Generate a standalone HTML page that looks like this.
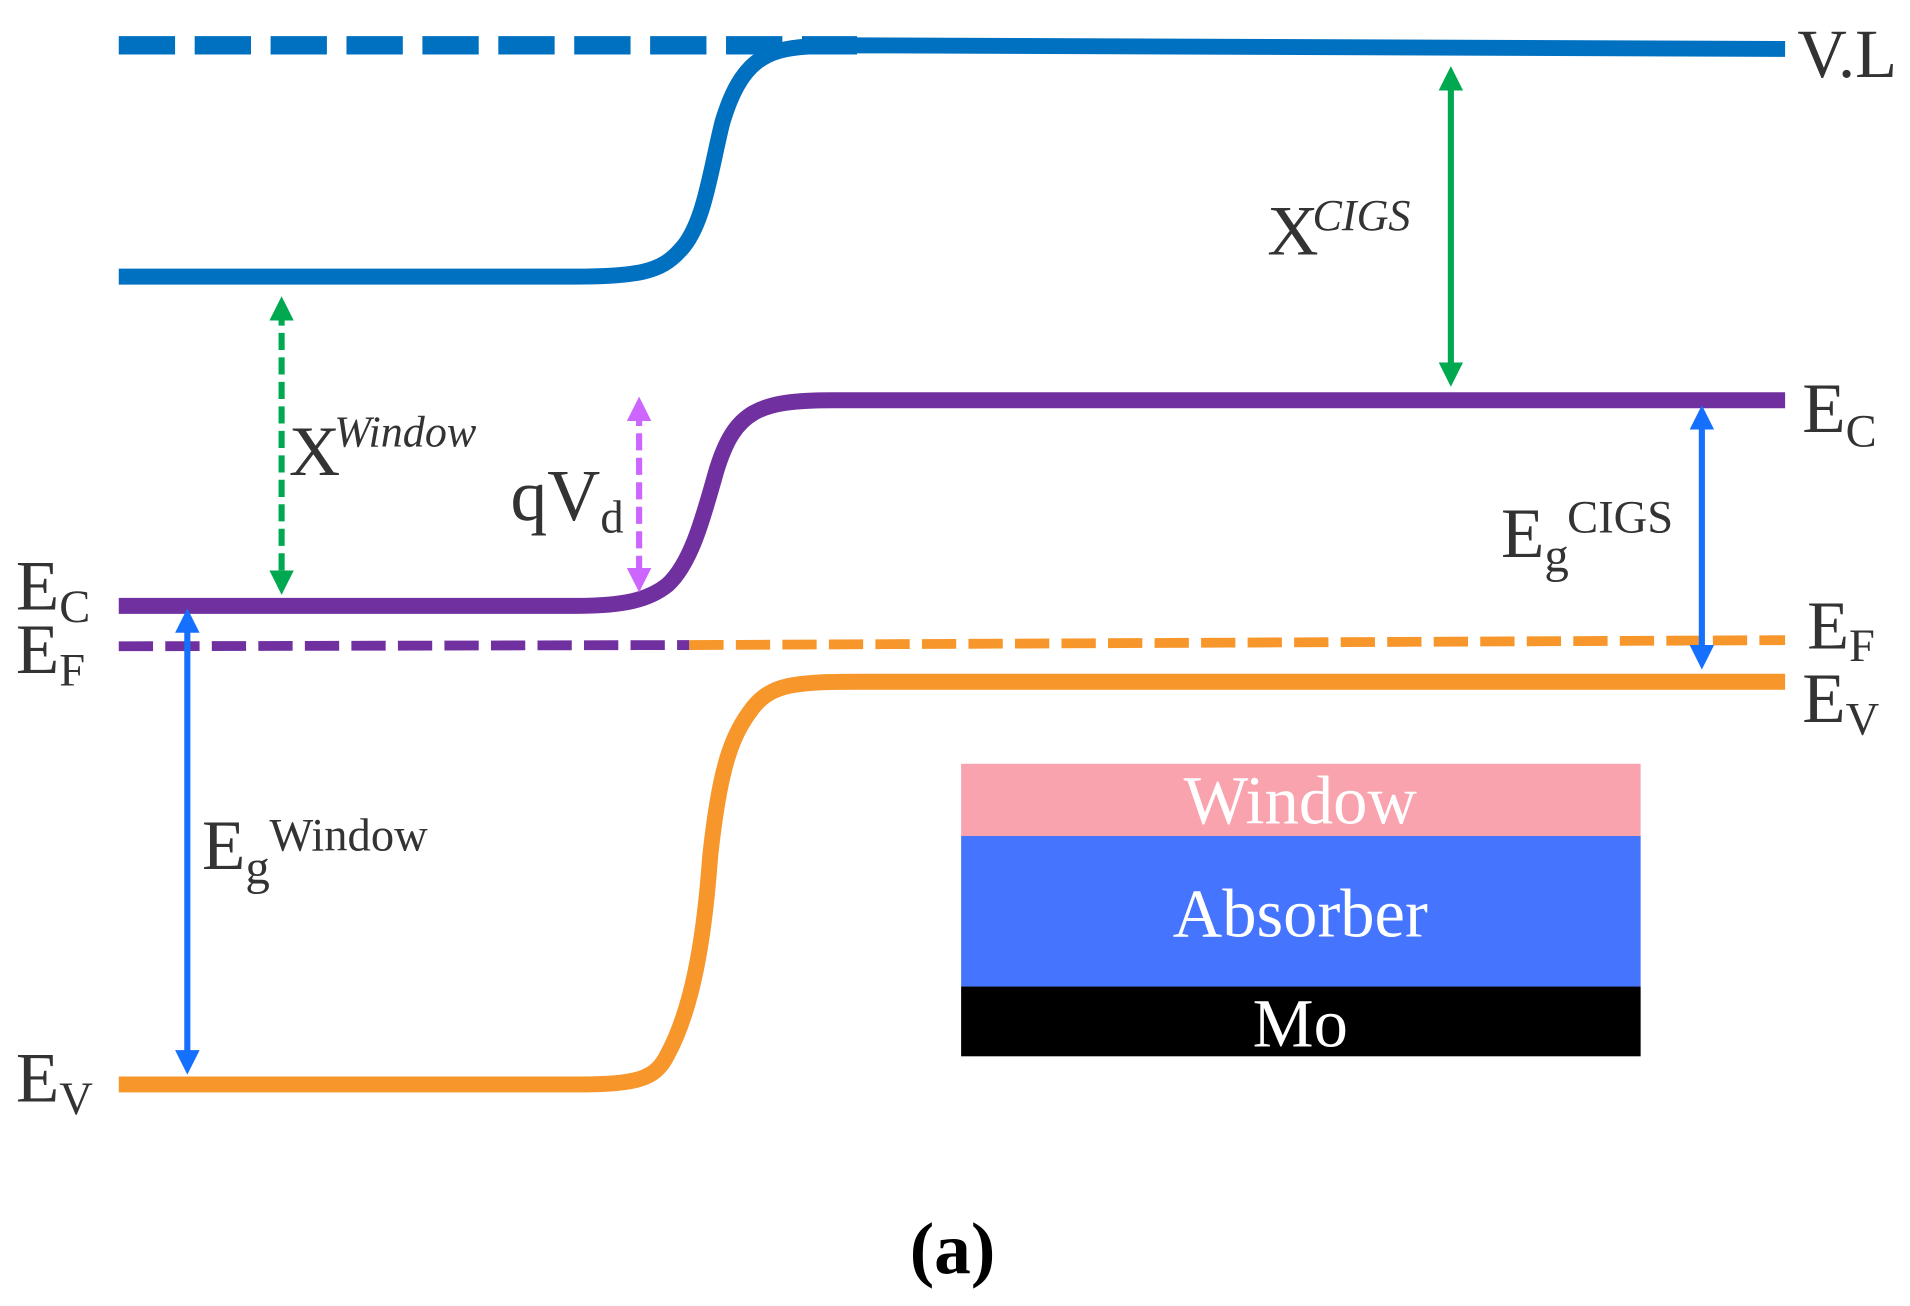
<!DOCTYPE html>
<html><head><meta charset="utf-8"><style>
html,body{margin:0;padding:0;background:#fff;width:1910px;height:1306px;overflow:hidden}
svg{display:block}
text{font-family:"Liberation Serif",serif;fill:#333}
</style></head><body>
<svg width="1910" height="1306" viewBox="0 0 1560 1067" preserveAspectRatio="none">
<defs>
<marker id="ag" viewBox="0 0 10 10" refX="5" refY="5" markerWidth="4" markerHeight="4" orient="auto-start-reverse"><path d="M0,0 L10,5 L0,10 z" fill="#00A84F"/></marker>
<marker id="ab" viewBox="0 0 10 10" refX="5" refY="5" markerWidth="4" markerHeight="4" orient="auto-start-reverse"><path d="M0,0 L10,5 L0,10 z" fill="#1570FF"/></marker>
<marker id="ap" viewBox="0 0 10 10" refX="5" refY="5" markerWidth="4" markerHeight="4" orient="auto-start-reverse"><path d="M0,0 L10,5 L0,10 z" fill="#CC66FF"/></marker>
</defs>
<line x1="97" y1="37" x2="700" y2="37" stroke="#0070C0" stroke-width="15" stroke-dasharray="46,16"/>
<path d="M97 226 H470 C520 226 540 222 555 205 C575 185 580 140 590 100 C605 50 625 40 660 38 L700 37 L1458 40" fill="none" stroke="#0070C0" stroke-width="13"/>
<path d="M97 495 H470 C510 495 530 490 545 478 C565 460 575 420 585 385 C600 335 620 327 680 327 H1458" fill="none" stroke="#7030A0" stroke-width="13"/>
<line x1="97" y1="528" x2="563" y2="527" stroke="#7030A0" stroke-width="8" stroke-dasharray="28,10"/>
<line x1="563" y1="527" x2="1458" y2="523" stroke="#F7962A" stroke-width="8" stroke-dasharray="28,10"/>
<path d="M97 886 H470 C520 886 535 882 545 862 C565 825 575 770 580 700 C588 625 598 600 615 578 C630 559 650 557 700 557 H1458" fill="none" stroke="#F7962A" stroke-width="13"/>
<line x1="230" y1="252" x2="230" y2="476" stroke="#00A84F" stroke-width="5" stroke-dasharray="14,6" marker-start="url(#ag)" marker-end="url(#ag)"/>
<line x1="1185" y1="64" x2="1185" y2="306" stroke="#00A84F" stroke-width="5" marker-start="url(#ag)" marker-end="url(#ag)"/>
<line x1="522" y1="334" x2="522" y2="474" stroke="#CC66FF" stroke-width="5" stroke-dasharray="14,6" marker-start="url(#ap)" marker-end="url(#ap)"/>
<line x1="153" y1="507" x2="153" y2="868" stroke="#1570FF" stroke-width="5" marker-start="url(#ab)" marker-end="url(#ab)"/>
<line x1="1390" y1="341" x2="1390" y2="537" stroke="#1570FF" stroke-width="5" marker-start="url(#ab)" marker-end="url(#ab)"/>
<text x="1468" y="63" font-size="56">V.L</text>
<text x="1472" y="353" font-size="58">E<tspan font-size="38" dy="12">C</tspan></text>
<text x="1476" y="530" font-size="56">E<tspan font-size="38" dy="10">F</tspan></text>
<text x="1472" y="590" font-size="58">E<tspan font-size="38" dy="10">V</tspan></text>
<text x="13" y="498" font-size="58">E<tspan font-size="38" dy="10">C</tspan></text>
<text x="13" y="550" font-size="58">E<tspan font-size="38" dy="10">F</tspan></text>
<text x="13" y="900" font-size="58">E<tspan font-size="38" dy="10">V</tspan></text>
<text x="1035" y="208" font-size="58">X</text>
<text x="1072" y="188" font-size="36" font-style="italic">CIGS</text>
<text x="236" y="388" font-size="58">X</text>
<text x="273" y="365" font-size="36" font-style="italic">Window</text>
<text x="417" y="425" font-size="60">qV<tspan font-size="38" dy="10">d</tspan></text>
<text x="1226" y="455" font-size="58">E<tspan font-size="40" dy="12">g</tspan></text>
<text x="1280" y="435" font-size="38">CIGS</text>
<text x="165" y="710" font-size="58">E<tspan font-size="40" dy="12">g</tspan></text>
<text x="220" y="695" font-size="38">Window</text>
<rect x="785" y="624" width="555" height="60" fill="#F9A3AE"/>
<rect x="785" y="683" width="555" height="123" fill="#4575FF"/>
<rect x="785" y="806" width="555" height="57" fill="#000"/>
<text x="1062" y="673" font-size="56" text-anchor="middle" style="fill:#fff">Window</text>
<text x="1062" y="765" font-size="56" text-anchor="middle" style="fill:#fff">Absorber</text>
<text x="1062" y="855" font-size="56" text-anchor="middle" style="fill:#fff">Mo</text>
<text x="778" y="1040" font-size="60" font-weight="bold" text-anchor="middle" style="fill:#000">(a)</text>
</svg>
</body></html>
